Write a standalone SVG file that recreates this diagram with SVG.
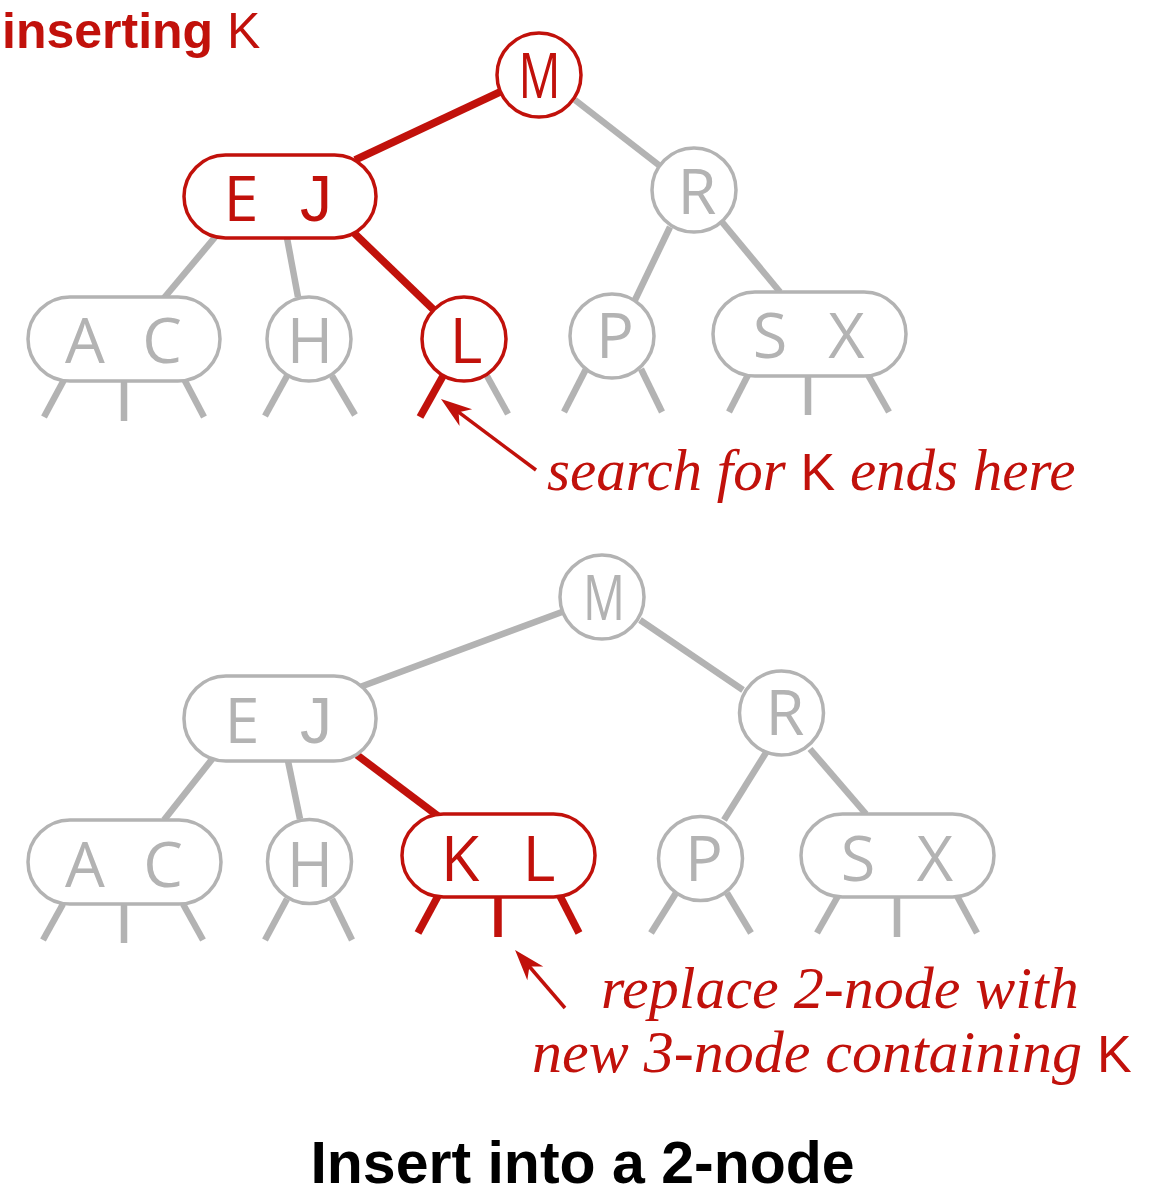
<svg xmlns="http://www.w3.org/2000/svg" width="1152" height="1200" viewBox="0 0 1152 1200">
<style>
  .bg { fill: #ffffff; }
  .ng { fill: #ffffff; stroke: #b3b3b3; stroke-width: 3.5; }
  .nr { fill: #ffffff; stroke: #c1110b; stroke-width: 3.5; }
  .lg { font-family: "Open Sans", "DejaVu Sans", sans-serif; font-size: 63px; fill: #b3b3b3; text-anchor: middle; }
  .lr { font-family: "Open Sans", "DejaVu Sans", sans-serif; font-size: 63px; fill: #c1110b; text-anchor: middle; }
  .jj { font-family: "Liberation Sans", Arial, sans-serif; font-size: 64px; }
  .eg { stroke: #b3b3b3; stroke-width: 6.5; fill: none; stroke-linecap: butt; }
  .er { stroke: #c1110b; stroke-width: 7.5; fill: none; stroke-linecap: butt; }
  .arrow { stroke: #c1110b; stroke-width: 3.5; fill: none; marker-end: url(#head); }
  .note { font-family: "Liberation Serif", "Times New Roman", serif; font-style: italic; font-size: 59px; fill: #c1110b; }
  .note2 { font-family: "Liberation Serif", "Times New Roman", serif; font-style: italic; font-size: 60px; fill: #c1110b; }
  .ksans { font-family: "Liberation Sans", Arial, sans-serif; font-style: normal; font-size: 52px; }
  .title { font-family: "Liberation Sans", Arial, sans-serif; font-weight: bold; font-size: 59px; fill: #000000; text-anchor: middle; }
  .hdr { font-family: "Liberation Sans", Arial, sans-serif; font-weight: bold; font-size: 50px; fill: #c1110b; }
</style>
<defs>
  <marker id="head" markerUnits="userSpaceOnUse" markerWidth="40" markerHeight="30" refX="-12" refY="0" orient="auto" overflow="visible">
    <path d="M0,0 L-31,-10.5 L-22,0 L-31,10.5 Z" fill="#c1110b"/>
  </marker>
</defs>
<rect class="bg" x="0" y="0" width="1152" height="1200"/>

<g id="connectors">
  <!-- top tree -->
  <line class="er" x1="500" y1="92" x2="355" y2="160"/>
  <line class="er" x1="353" y1="232" x2="436" y2="312"/>
  <line class="eg" x1="575" y1="100" x2="660" y2="166"/>
  <line class="eg" x1="216" y1="236" x2="164" y2="298"/>
  <line class="eg" x1="287" y1="238" x2="298" y2="297"/>
  <line class="eg" x1="670" y1="227" x2="635" y2="300"/>
  <line class="eg" x1="722" y1="222" x2="780" y2="292"/>
  <line class="eg" x1="65" y1="378" x2="44" y2="417"/>
  <line class="eg" x1="124" y1="381" x2="124" y2="421"/>
  <line class="eg" x1="184" y1="379" x2="204" y2="417"/>
  <line class="eg" x1="287" y1="376" x2="265" y2="416"/>
  <line class="eg" x1="332" y1="376" x2="355" y2="415"/>
  <line class="er" x1="443" y1="376" x2="420" y2="417"/>
  <line class="eg" x1="487" y1="376" x2="508" y2="414"/>
  <line class="eg" x1="586" y1="369" x2="564" y2="412"/>
  <line class="eg" x1="641" y1="369" x2="662" y2="412"/>
  <line class="eg" x1="748" y1="375" x2="729" y2="412"/>
  <line class="eg" x1="808" y1="376" x2="808" y2="415"/>
  <line class="eg" x1="868" y1="375" x2="889" y2="412"/>
  <line class="arrow" x1="536" y1="470" x2="450.6" y2="406.2"/>
  <!-- bottom tree -->
  <line class="eg" x1="562" y1="612" x2="360" y2="687"/>
  <line class="eg" x1="640" y1="620" x2="743" y2="690"/>
  <line class="eg" x1="213" y1="758" x2="164" y2="820"/>
  <line class="eg" x1="288" y1="761" x2="300" y2="819"/>
  <line class="eg" x1="767" y1="751" x2="724" y2="820"/>
  <line class="eg" x1="810" y1="749" x2="866" y2="814"/>
  <line class="er" x1="357" y1="755" x2="438" y2="816"/>
  <line class="eg" x1="63" y1="904" x2="43" y2="940"/>
  <line class="eg" x1="124" y1="904" x2="124" y2="943"/>
  <line class="eg" x1="183" y1="904" x2="203" y2="940"/>
  <line class="eg" x1="287" y1="899" x2="265" y2="940"/>
  <line class="eg" x1="332" y1="899" x2="352" y2="940"/>
  <line class="er" x1="438" y1="896" x2="418" y2="933"/>
  <line class="er" x1="498" y1="897" x2="498" y2="937"/>
  <line class="er" x1="560" y1="896" x2="579" y2="933"/>
  <line class="eg" x1="676" y1="893" x2="651" y2="933"/>
  <line class="eg" x1="727" y1="893" x2="751" y2="933"/>
  <line class="eg" x1="838" y1="896" x2="817" y2="933"/>
  <line class="eg" x1="897" y1="897" x2="897" y2="937"/>
  <line class="eg" x1="957" y1="896" x2="977" y2="933"/>
  <line class="arrow" x1="565" y1="1008" x2="522.9" y2="959"/>
</g>

<!-- top tree nodes -->
<g id="t-M"><circle class="nr" cx="539" cy="75" r="42"/><text class="lr" x="539.5" y="98" textLength="42" lengthAdjust="spacingAndGlyphs">M</text></g>
<g id="t-EJ"><rect class="nr" x="184" y="155" width="192" height="83" rx="41.5"/><text class="lr" x="241" y="221">E</text><text class="lr jj" x="316" y="221">J</text></g>
<g id="t-R"><circle class="ng" cx="694" cy="190" r="42"/><text class="lg" x="697" y="214">R</text></g>
<g id="t-AC"><rect class="ng" x="28" y="297" width="192" height="84" rx="42"/><text class="lg" x="85" y="363">A</text><text class="lg" x="162" y="363">C</text></g>
<g id="t-H"><circle class="ng" cx="309" cy="339" r="42"/><text class="lg" x="310" y="363">H</text></g>
<g id="t-L"><circle class="nr" cx="464" cy="339" r="42"/><text class="lr" x="466" y="363">L</text></g>
<g id="t-P"><circle class="ng" cx="612" cy="336" r="42"/><text class="lg" x="615" y="358">P</text></g>
<g id="t-SX"><rect class="ng" x="713" y="292" width="193" height="84" rx="42"/><text class="lg" x="770" y="358">S</text><text class="lg" x="846.5" y="358">X</text></g>

<!-- bottom tree nodes -->
<g id="b-M"><circle class="ng" cx="602" cy="597" r="42"/><text class="lg" x="604" y="620" textLength="42" lengthAdjust="spacingAndGlyphs">M</text></g>
<g id="b-EJ"><rect class="ng" x="184" y="676" width="192" height="85" rx="42"/><text class="lg" x="242" y="743">E</text><text class="lg jj" x="316" y="743">J</text></g>
<g id="b-R"><circle class="ng" cx="781.5" cy="713" r="42"/><text class="lg" x="785" y="735">R</text></g>
<g id="b-AC"><rect class="ng" x="28" y="820" width="193" height="84" rx="42"/><text class="lg" x="85" y="887">A</text><text class="lg" x="163" y="887">C</text></g>
<g id="b-H"><circle class="ng" cx="309.5" cy="861.5" r="42"/><text class="lg" x="310" y="887">H</text></g>
<g id="b-KL"><rect class="nr" x="402" y="814" width="193" height="83" rx="41.5"/><text class="lr" x="460" y="881">K</text><text class="lr" x="539" y="881">L</text></g>
<g id="b-P"><circle class="ng" cx="700.5" cy="858.5" r="42"/><text class="lg" x="704" y="881">P</text></g>
<g id="b-SX"><rect class="ng" x="801" y="814" width="193" height="83" rx="41.5"/><text class="lg" x="858" y="881">S</text><text class="lg" x="935" y="881">X</text></g>

<!-- labels -->
<text class="hdr" x="2" y="48">inserting <tspan font-weight="normal">K</tspan></text>
<text class="note" x="547" y="490">search for <tspan class="ksans">K</tspan> ends here</text>
<text class="note2" x="601" y="1008">replace 2-node with</text>
<text class="note2" x="532" y="1072">new 3-node containing <tspan class="ksans">K</tspan></text>
<text class="title" x="582.5" y="1183">Insert into a 2-node</text>
</svg>
